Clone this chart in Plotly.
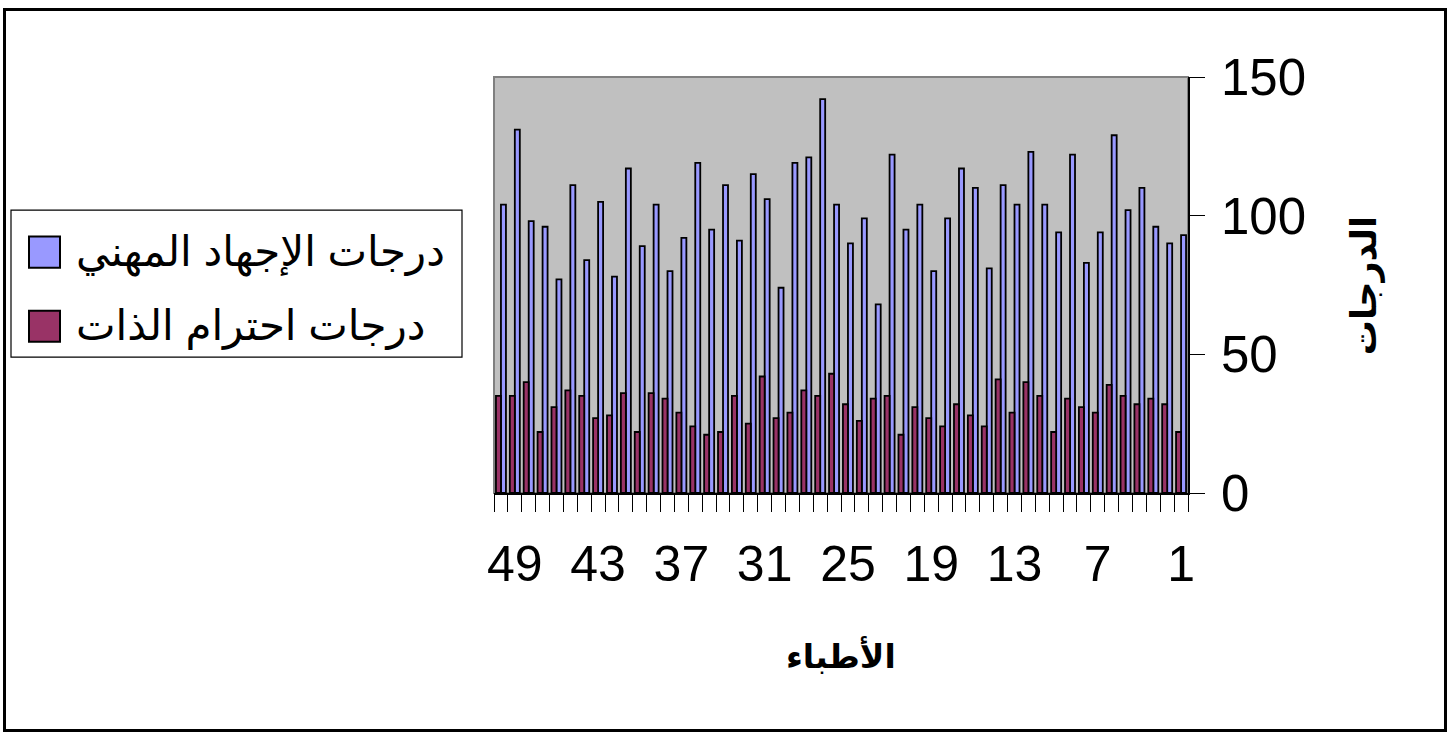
import plotly.graph_objects as go

categories = [str(i) for i in range(1, 51)]
burnout = [93, 90, 96, 110, 102, 129, 94, 83, 122, 94, 104, 123, 104, 111, 81, 110, 117, 99, 80, 104,
           95, 122, 68, 99, 90, 104, 142, 121, 119, 74, 106, 115, 91, 111, 95, 119, 92, 80, 104, 89,
           117, 78, 105, 84, 111, 77, 96, 98, 131, 104]
esteem = [22, 32, 34, 32, 35, 39, 29, 31, 34, 22, 35, 40, 29, 41, 24, 28, 32, 24, 27, 31,
          21, 35, 34, 26, 32, 43, 35, 37, 29, 27, 42, 25, 35, 22, 21, 24, 29, 34, 36, 22,
          36, 28, 27, 35, 37, 31, 22, 40, 35, 35]
shown_labels = {"1", "7", "13", "19", "25", "31", "37", "43", "49"}
tick_text = [c if c in shown_labels else "" for c in categories]
series_names = ["درجات الإجهاد المهني", "درجات احترام الذات"]
colors = ["#9999FF", "#993366"]
y_title = "الدرجات"
x_title = "الأطباء"

W, H = 1450, 733
L, R, T, B = 494, 1188, 77, 492.7

def px(x):
    return (x - L) / (R - L)

def py(y):
    return (B - y) / (B - T)

fig = go.Figure()
fig.add_trace(go.Bar(x=categories, y=burnout, name=series_names[0],
                     marker=dict(color=colors[0], line=dict(color="black", width=1.8)),
                     showlegend=False))
fig.add_trace(go.Bar(x=categories, y=esteem, name=series_names[1],
                     marker=dict(color=colors[1], line=dict(color="black", width=1.8)),
                     showlegend=False))

font_ar = "Liberation Sans, DejaVu Sans, Arial, sans-serif"

shapes = [
    # outer chart border
    dict(type="rect", xref="paper", yref="paper", x0=px(4.5), x1=px(1445.5), y0=py(730), y1=py(9.5),
         line=dict(color="black", width=3), fillcolor="rgba(0,0,0,0)", layer="above"),
    # plot area border (gray)
    dict(type="rect", xref="paper", yref="paper", x0=0, x1=1, y0=0, y1=1,
         line=dict(color="#808080", width=2), fillcolor="rgba(0,0,0,0)", layer="below"),
    # legend box
    dict(type="rect", xref="paper", yref="paper", x0=px(11), x1=px(462), y0=py(357), y1=py(210),
         line=dict(color="black", width=1.2), fillcolor="white", layer="above"),
]
annotations = []
legend_rows = [252, 326]
for name, col, yy in zip(series_names, colors, legend_rows):
    shapes.append(dict(type="rect", xref="paper", yref="paper",
                       x0=px(29), x1=px(60), y0=py(yy + 15.5), y1=py(yy - 15.5),
                       line=dict(color="black", width=2), fillcolor=col, layer="above"))
    annotations.append(dict(xref="paper", yref="paper", x=px(74), y=py(yy), text=name,
                            showarrow=False, xanchor="left", yanchor="middle",
                            font=dict(family=font_ar, size=42, color="black")))

annotations.append(dict(xref="paper", yref="paper", x=px(1364), y=py(286), text="<b>%s</b>" % y_title,
                        showarrow=False, textangle=-90, xanchor="center", yanchor="middle",
                        font=dict(family=font_ar, size=35, color="black")))
annotations.append(dict(xref="paper", yref="paper", x=px(841), y=py(655), text="<b>%s</b>" % x_title,
                        showarrow=False, xanchor="center", yanchor="middle",
                        font=dict(family=font_ar, size=33, color="black")))

fig.update_layout(
    width=W, height=H,
    margin=dict(l=L, r=W - R, t=T, b=H - B, pad=0),
    paper_bgcolor="white", plot_bgcolor="#C0C0C0",
    barmode="group", bargap=0.28, bargroupgap=0,
    shapes=shapes, annotations=annotations,
    xaxis=dict(type="category", autorange="reversed", tickmode="array",
               tickvals=categories, ticktext=tick_text, tickson="boundaries",
               ticks="outside", ticklen=17, tickcolor="black", tickwidth=1,
               showline=True, linecolor="black", linewidth=1.5, showgrid=False,
               ticklabelstandoff=26,
               tickfont=dict(family="Liberation Sans, Arial", size=50, color="black"),
               tickangle=0),
    yaxis=dict(side="right", range=[0, 150], tickvals=[0, 50, 100, 150],
               ticks="outside", ticklen=15, tickcolor="black", tickwidth=1,
               showline=True, linecolor="black", linewidth=1.5, showgrid=False, zeroline=False,
               ticklabelstandoff=6,
               tickfont=dict(family="Liberation Sans, Arial", size=51, color="black")),
)

fig.write_html("out.html", config={"displayModeBar": False},
               post_script="document.body.style.margin='0';document.body.style.overflow='hidden';")
